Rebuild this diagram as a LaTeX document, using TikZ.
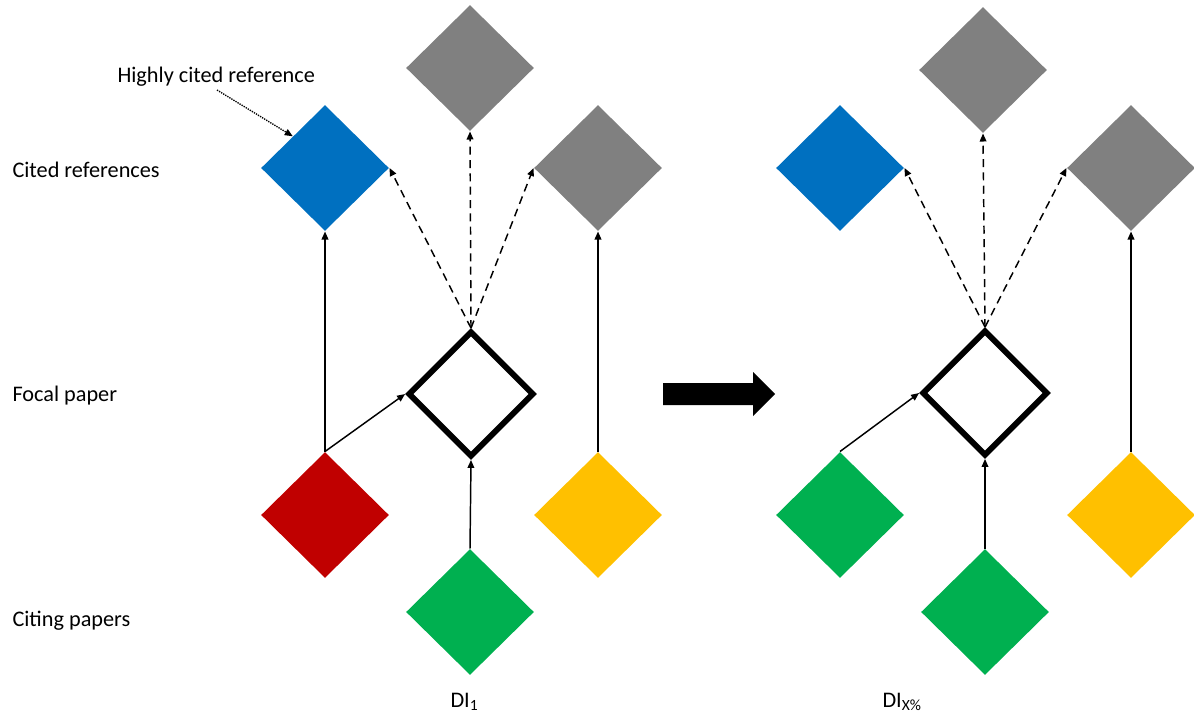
\documentclass[tikz,border=0pt]{standalone}
\usepackage{fontspec}
\setmainfont{Carlito}
\usetikzlibrary{shapes.geometric,arrows.meta}

\definecolor{refblue}{RGB}{0,112,192}
\definecolor{refgray}{RGB}{128,128,128}
\definecolor{refred}{RGB}{192,0,0}
\definecolor{refgreen}{RGB}{0,176,80}
\definecolor{refyellow}{RGB}{255,192,0}

\tikzset{every picture/.style={line width=0.75pt}}
\tikzset{
  paper/.style={diamond, draw=none, inner sep=0pt, minimum width=96pt, minimum height=94.5pt},
  focalpaper/.style={diamond, draw=black, line width=4.4pt, inner sep=0pt, minimum width=94.5pt, minimum height=94.5pt},
  cites/.style={-{Triangle[length=6pt,width=5pt]}, line width=1.1pt},
  citesdashed/.style={cites, dash pattern=on 6pt off 4pt},
  rowtext/.style={anchor=west, inner sep=0.75pt, font=\fontsize{16.7}{20}\selectfont},
}

\begin{document}
\begin{tikzpicture}[x=0.75pt,y=0.75pt,yscale=-1,xscale=1]
        \useasboundingbox (0,0) rectangle (1194,718);

        %Shape: Diamond (left panel)
        \node (grayTopA) at (470,68) [paper, fill=refgray] {};
        \node (blueA) at (325,168) [paper, fill=refblue] {};
        \node (grayRightA) at (598,168) [paper, fill=refgray] {};
        \node (focalA) at (471,394) [focalpaper] {};
        \node (redA) at (325,515) [paper, fill=refred] {};
        \node (yellowA) at (598,515) [paper, fill=refyellow] {};
        \node (greenA) at (470,612) [paper, fill=refgreen] {};

        %Shape: Diamond (right panel)
        \node (grayTopB) at (983,70) [paper, fill=refgray] {};
        \node (blueB) at (840,168) [paper, fill=refblue] {};
        \node (grayRightB) at (1131,168) [paper, fill=refgray] {};
        \node (focalB) at (985,393) [focalpaper] {};
        \node (greenLeftB) at (840,515) [paper, fill=refgreen] {};
        \node (yellowB) at (1131,515) [paper, fill=refyellow] {};
        \node (greenB) at (985,612) [paper, fill=refgreen] {};

        %Straight Lines (left panel)
        \draw [cites] (redA.north) -- (blueA.south);
        \draw [cites] (redA.north) -- (focalA.west);
        \draw [cites] (greenA.north) -- (focalA.south);
        \draw [cites] (yellowA.north) -- (grayRightA.south);
        \draw [citesdashed] (focalA.north) -- (blueA.east);
        \draw [citesdashed] (focalA.north) -- (grayTopA.south);
        \draw [citesdashed] (focalA.north) -- (grayRightA.west);

        %Straight Lines (right panel)
        \draw [cites] (greenLeftB.north) -- (focalB.west);
        \draw [cites] (greenB.north) -- (focalB.south);
        \draw [cites] (yellowB.north) -- (grayRightB.south);
        \draw [citesdashed] (focalB.north) -- (blueB.east);
        \draw [citesdashed] (focalB.north) -- (grayTopB.south);
        \draw [citesdashed] (focalB.north) -- (grayRightB.west);

        %Shape: Right Arrow
        \fill [black] (663,383) -- (753,383) -- (753,372) -- (775,394) -- (753,416) -- (753,405) -- (663,405) -- cycle;

        % Text Node
        \node (highlyCited) at (116,77) [rowtext] {Highly cited reference};
        \coordinate (highlyTail) at (217,90);
        \draw [dash pattern=on 1pt off 0.8pt, line width=1pt, -{Triangle[length=6pt,width=5pt]}] (highlyTail) -- (blueA.north west);
        % Text Node
        \node (citedRow) at (11,170) [rowtext] {Cited references};
        % Text Node
        \node (focalRow) at (11,396) [rowtext] {Focal paper};
        % Text Node
        \node (citingRow) at (11,621) [rowtext] {Citing papers};
        % Text Node
        \node (diOne) at (449,702) [rowtext] {DI\textsubscript{1}};
        % Text Node
        \node (diX) at (881,702) [rowtext] {DI\textsubscript{X\%}};
\end{tikzpicture}
\end{document}
